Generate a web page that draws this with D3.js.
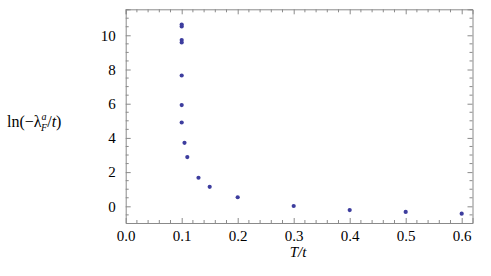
<!doctype html>
<html>
<head>
<meta charset="utf-8">
<title>ln(-lambda) vs T/t</title>
<script src="https://cdnjs.cloudflare.com/ajax/libs/d3/7.8.5/d3.min.js"></script>
<style>
    body { margin: 0; background: #fff; }
</style>
</head>
<body>
<svg width="491" height="276"></svg>
<script>
    // data
    let tValues = [0.1, 0.1, 0.1, 0.1, 0.1, 0.1, 0.1, 0.105, 0.11, 0.13, 0.15, 0.2, 0.3, 0.4, 0.5, 0.6];
    let lnValues = [10.63, 10.52, 9.72, 9.58, 7.65, 5.92, 4.9, 3.71, 2.88, 1.67, 1.14, 0.53, 0.02, -0.22, -0.33, -0.43];
    let xTicks = [0, 0.1, 0.2, 0.3, 0.4, 0.5, 0.6];
    let yTicks = [0, 2, 4, 6, 8, 10];

    let serif = "'Liberation Serif'";
    let svg = d3.select("svg");
    let mLeft = 125.7, mRight = 472.5, mTop = 9.3, mBottom = 223;

    let x = d3.scaleLinear().domain([0, 0.6193]).range([mLeft, mRight]);
    let y = d3.scaleLinear().domain([-0.975, 11.52]).range([mBottom, mTop]);

    let frameColor = "#8a8a8a";
    let xMinor = d3.range(0, 0.62, 0.02).filter(v => !xTicks.some(t => Math.abs(t - v) < 1e-6));
    let yMinor = d3.range(-0.5, 11.6, 0.5).filter(v => !yTicks.some(t => Math.abs(t - v) < 1e-6));

    // bottom axis
    let bottomAxis = d3.axisBottom(x).tickValues(xTicks).tickSize(-5).tickPadding(7)
        .tickFormat(d3.format(".1f"));
    let gb = svg.append("g").attr("transform", "translate(0," + mBottom + ")").call(bottomAxis);
    gb.selectAll(".tick").filter(d => d === 0).select("line").remove();
    gb.append("g").selectAll("line").data(xMinor).enter().append("line")
        .attr("x1", d => x(d)).attr("x2", d => x(d)).attr("y1", 0).attr("y2", -3);

    // top frame
    let gt = svg.append("g").attr("transform", "translate(0," + mTop + ")")
        .call(d3.axisTop(x).tickValues(xTicks).tickSize(-5).tickFormat(""));
    gt.append("g").selectAll("line").data(xMinor).enter().append("line")
        .attr("x1", d => x(d)).attr("x2", d => x(d)).attr("y1", 0).attr("y2", 3);

    // left axis
    let gl = svg.append("g").attr("transform", "translate(" + mLeft + ",0)")
        .call(d3.axisLeft(y).tickValues(yTicks).tickSize(-5).tickPadding(10));
    gl.append("g").selectAll("line").data(yMinor).enter().append("line")
        .attr("y1", d => y(d)).attr("y2", d => y(d)).attr("x1", 0).attr("x2", 3);

    // right frame
    let gr = svg.append("g").attr("transform", "translate(" + mRight + ",0)")
        .call(d3.axisRight(y).tickValues(yTicks).tickSize(-5).tickFormat(""));
    gr.append("g").selectAll("line").data(yMinor).enter().append("line")
        .attr("y1", d => y(d)).attr("y2", d => y(d)).attr("x1", 0).attr("x2", -3);

    svg.selectAll("g").attr("font-family", serif);
    svg.selectAll(".domain").attr("stroke", frameColor);
    svg.selectAll("line").attr("stroke", frameColor);
    svg.selectAll(".tick text").attr("fill", "#000").attr("font-size", 15)
        .attr("font-family", serif);

    // points
    svg.append("g").selectAll("circle")
        .data(tValues.map((t, i) => [t, lnValues[i]]))
        .enter().append("circle")
        .attr("cx", d => x(d[0]))
        .attr("cy", d => y(d[1]))
        .attr("r", 2.1)
        .attr("fill", "#3d3d9e");

    // axis labels
    let yl = svg.append("text").attr("x", 7).attr("y", 127)
        .attr("font-family", serif).attr("font-size", 16);
    yl.append("tspan").text("ln(\u2212\u03bb");
    yl.append("tspan").attr("dy", -7).attr("font-size", 10).attr("font-style", "italic").text("a");
    yl.append("tspan").attr("dy", 11).attr("dx", -5.5).attr("font-size", 10).attr("font-style", "italic").text("F");
    yl.append("tspan").attr("dy", -4).text("/");
    yl.append("tspan").attr("font-style", "italic").text("t");
    yl.append("tspan").text(")");

    svg.append("text").attr("x", 298).attr("y", 257).attr("text-anchor", "middle")
        .attr("font-family", serif).attr("font-size", 15).attr("font-style", "italic").text("T/t");
</script>
</body>
</html>
